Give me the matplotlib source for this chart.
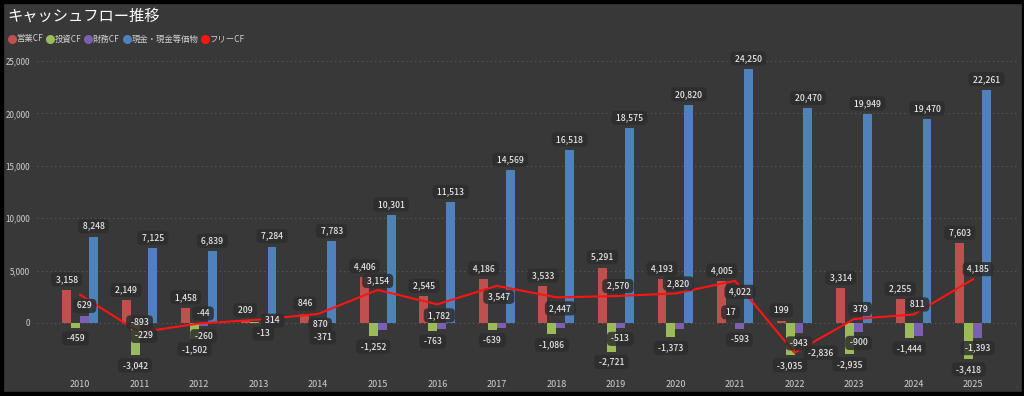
import numpy as np
import matplotlib.pyplot as plt
from matplotlib.lines import Line2D
from matplotlib.patches import Rectangle

plt.rcParams['font.family'] = ['Noto Sans CJK JP', 'DejaVu Sans']

# data
years = [str(y) for y in range(2010, 2026)]
operating_cf = [3158, 2149, 1458, 209, 846, 4406, 2545, 4186, 3533, 5291, 4193, 4005, 199, 3314, 2255, 7603]
investing_cf = [-459, -3042, -1502, 105, 24, -1252, -763, -639, -1086, -2721, -1373, 17, -3035, -2935, -1444, -3418]
financing_cf = [629, -229, -260, -13, -371, -640, -570, -510, -510, -513, -570, -593, -943, -900, -1270, -1393]
cash_eq = [8248, 7125, 6839, 7284, 7783, 10301, 11513, 14569, 16518, 18575, 20820, 24250, 20470, 19949, 19470, 22261]
free_cf = [o + i for o, i in zip(operating_cf, investing_cf)]
series_names = ['営業CF', '投資CF', '財務CF', '現金・現金等価物', 'フリーCF']

BG = '#383838'
C_OP, C_INV, C_FIN, C_CASH, C_FREE = '#c0504d', '#9bbb59', '#7d5fb0', '#4f81bd', '#ff1414'

fig = plt.figure(figsize=(10.24, 3.96), dpi=100, facecolor=BG)
ax = fig.add_axes([37 / 1024, 1 - 372 / 396, (1019 - 37) / 1024, (372 - 55) / 396])
ax.set_facecolor(BG)

x = np.arange(len(years))
w = 0.15
ax.bar(x - 1.5 * w, operating_cf, w, color=C_OP, zorder=2)
ax.bar(x - 0.5 * w, investing_cf, w, color=C_INV, zorder=2)
ax.bar(x + 0.5 * w, financing_cf, w, color=C_FIN, zorder=2)
ax.bar(x + 1.5 * w, cash_eq, w, color=C_CASH, zorder=2)
ax.plot(x, free_cf, color=C_FREE, lw=1.5, zorder=3)

ax.set_xlim(-0.722, 15.77)
ax.set_ylim(-4676, 25573)
ax.set_yticks(range(0, 25001, 5000))
ax.set_yticklabels([f'{v:,}' for v in range(0, 25001, 5000)])
ax.set_xticks(x)
ax.set_xticklabels(years)
ax.tick_params(axis='both', length=0, colors='#d0d0d0')
ax.tick_params(axis='y', pad=5, labelsize=5.8)
ax.tick_params(axis='x', pad=5.5, labelsize=6.5)
ax.grid(axis='y', color='#5e5e5e', linestyle=(0, (1, 3)), lw=0.8, zorder=0)
for s in ax.spines.values():
    s.set_visible(False)

box = dict(boxstyle='round,pad=0.3,rounding_size=0.5', fc='#2d2d2d', ec='none', alpha=0.85)
PX = 0.72  # points per pixel


def label(xv, yv, val, dx, dy):
    ax.annotate(f' {val:,} ', (xv, yv), xytext=(dx * PX, dy * PX), textcoords='offset points',
                ha='center', va='center', fontsize=6.2, color='#e6e6e6', bbox=box, zorder=5,
                fontweight='medium')


def bar_label(xv, val, gap=10.5):
    label(xv, val, val, 0, gap if val >= 0 else -gap)


hide_inv = {'2013', '2014'}
hide_fin = {'2015', '2016', '2017', '2018', '2020', '2024'}
free_offsets = {'2011': (0, 10), '2012': (4, 10), '2013': (14, -1), '2014': (2, -11),
                '2015': (0, 9), '2016': (2, -11), '2017': (2, -11), '2018': (4, -11),
                '2019': (2, 10), '2020': (3, 10), '2021': (5, -11), '2022': (26, 0),
                '2023': (6, 10), '2024': (4, 10), '2025': (5, 10)}

for i, yr in enumerate(years):
    bar_label(x[i] - 1.5 * w, operating_cf[i])
    if yr not in hide_inv:
        bar_label(x[i] - 0.5 * w, investing_cf[i])
    if yr not in hide_fin:
        bar_label(x[i] + 0.5 * w, financing_cf[i])
    bar_label(x[i] + 1.5 * w, cash_eq[i])
    if yr in free_offsets:
        dx, dy = free_offsets[yr]
        label(x[i], free_cf[i], free_cf[i], dx, dy)

fig.text(7 / 1024, 1 - 16 / 396, 'キャッシュフロー推移', fontsize=11, color='white',
         ha='left', va='center')

handles = [Line2D([], [], marker='o', ls='none', color=c, markersize=5.5)
           for c in (C_OP, C_INV, C_FIN, C_CASH, C_FREE)]
leg = fig.legend(handles, series_names, loc='center left', bbox_to_anchor=(4 / 1024, 1 - 39 / 396),
                 ncol=5, frameon=False, fontsize=6, handletextpad=0.05, columnspacing=0.35,
                 borderaxespad=0, handlelength=1.0)
for t in leg.get_texts():
    t.set_color('#d0d0d0')

# dark outer frame: left, bottom, right, top
for rx, ry, rw, rh in [(0, 0, 3, 396), (0, 0, 1024, 4), (1022, 0, 2, 396), (0, 393, 1024, 3)]:
    fig.patches.append(Rectangle((rx / 1024, ry / 396), rw / 1024, rh / 396,
                                 transform=fig.transFigure, color='black', zorder=10))

fig.savefig('out.png', dpi=100, facecolor=BG)
